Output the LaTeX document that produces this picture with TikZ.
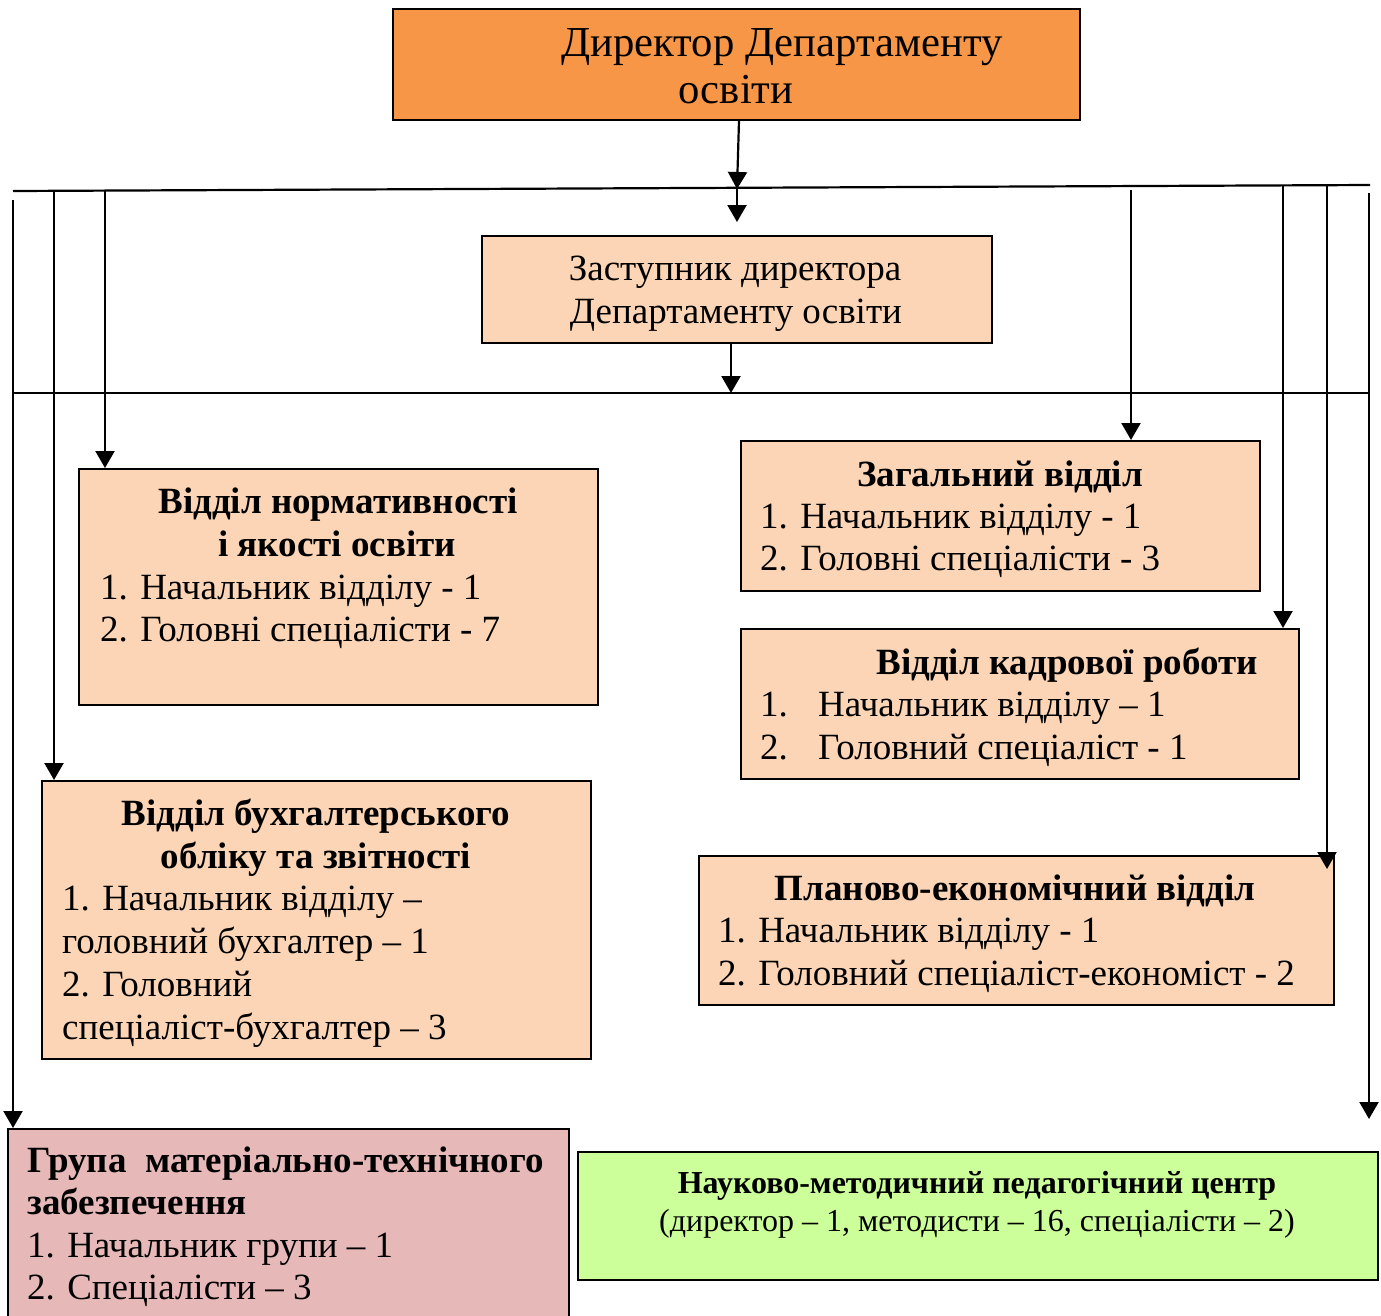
\documentclass[tikz,border=0pt]{standalone}
\usepackage{fontspec}
\setmainfont{Liberation Serif}
\usetikzlibrary{arrows.meta}
\definecolor{dirorange}{HTML}{F79646}
\definecolor{peach}{HTML}{FBD5B5}
\definecolor{pinkbox}{HTML}{E6B9B8}
\definecolor{greenbox}{HTML}{CCFF99}
\tikzset{
  box/.style={draw=black, line width=1.7pt, inner sep=0pt, anchor=north west},
  conn/.style={line width=2.2pt},
  arr/.style={line width=2.2pt, -{Triangle[width=19pt,length=17pt]}},
  body/.style={font=\fontsize{37}{44}\selectfont, inner sep=0pt},
  head/.style={font=\fontsize{37}{44}\selectfont\bfseries, inner sep=0pt},
  big/.style={font=\fontsize{42.7}{50}\selectfont, inner sep=0pt},
  small/.style={font=\fontsize{32}{38}\selectfont, inner sep=0pt},
  smallb/.style={font=\fontsize{32}{38}\selectfont\bfseries, inner sep=0pt}
}
\begin{document}
\begin{tikzpicture}[x=1pt,y=-1pt]
\useasboundingbox (0,0) rectangle (1381,1315);
% boxes
\node[box, fill=dirorange, minimum width=687pt, minimum height=111pt] (dir) at (392,8) {};
\node[box, fill=peach, minimum width=510pt, minimum height=107pt] (dep) at (481,235) {};
\node[box, fill=peach, minimum width=519pt, minimum height=236pt] (norm) at (78,468) {};
\node[box, fill=peach, minimum width=549pt, minimum height=278pt] (buh) at (41,780) {};
\node[box, fill=pinkbox, minimum width=561pt, minimum height=200pt] (grp) at (7,1128) {};
\node[box, fill=peach, minimum width=519pt, minimum height=150pt] (zag) at (740,440) {};
\node[box, fill=peach, minimum width=558pt, minimum height=150pt] (kad) at (740,628) {};
\node[box, fill=peach, minimum width=635pt, minimum height=149pt] (plan) at (698,855) {};
\node[box, fill=greenbox, minimum width=800pt, minimum height=128pt] (nmpc) at (577,1151) {};
% texts
\begin{scope}[yshift=-9pt]
\node[big, anchor=mid] (d1) at (782,45) {Директор Департаменту};
\node[big, anchor=mid] (d2) at (736,92) {освіти};
\node[body, anchor=mid] (p1) at (735,269) {Заступник директора};
\node[body, anchor=mid] (p2) at (736,312) {Департаменту освіти};
\node[head, anchor=mid] (n1) at (338,502) {Відділ нормативності};
\node[head, anchor=mid] (n2) at (337,545) {і якості освіти};
\node[body, anchor=mid west] (n3) at (100,588) {1. Начальник відділу - 1};
\node[body, anchor=mid west] (n4) at (100,630) {2. Головні спеціалісти - 7};
\node[head, anchor=mid] (b1) at (316,814) {Відділ бухгалтерського};
\node[head, anchor=mid] (b2) at (316,857) {обліку та звітності};
\node[body, anchor=mid west] (b3) at (62,899) {1. Начальник відділу –};
\node[body, anchor=mid west] (b4) at (62,942) {головний бухгалтер – 1};
\node[body, anchor=mid west] (b5) at (62,985) {2. Головний};
\node[body, anchor=mid west] (b6) at (62,1028) {спеціаліст-бухгалтер – 3};
\node[head, anchor=mid west] (g1) at (27,1161) {Група\ \ матеріально-технічного};
\node[head, anchor=mid west] (g2) at (27,1203) {забезпечення};
\node[body, anchor=mid west] (g3) at (27,1246) {1. Начальник групи – 1};
\node[body, anchor=mid west] (g4) at (27,1288) {2. Спеціалісти – 3};
\node[head, anchor=mid] (z1) at (1000,475) {Загальний відділ};
\node[body, anchor=mid west] (z2) at (760,517) {1. Начальник відділу - 1};
\node[body, anchor=mid west] (z3) at (760,559) {2. Головні спеціалісти - 3};
\node[head, anchor=mid] (k1) at (1067,663) {Відділ кадрової роботи};
\node[body, anchor=mid west] (k2) at (760,705) {\makebox[58pt][l]{1.}Начальник відділу – 1};
\node[body, anchor=mid west] (k3) at (760,748) {\makebox[58pt][l]{2.}Головний спеціаліст - 1};
\node[head, anchor=mid] (pl1) at (1015,889) {Планово-економічний відділ};
\node[body, anchor=mid west] (pl2) at (718,931) {1. Начальник відділу - 1};
\node[body, anchor=mid west] (pl3) at (718,974) {2. Головний спеціаліст-економіст - 2};
\node[smallb, anchor=mid] (c1) at (977,1182) {Науково-методичний педагогічний центр};
\node[small, anchor=mid] (c2) at (977,1220) {(директор – 1, методисти – 16, спеціалісти – 2)};
\end{scope}
% bus lines
\coordinate (L1a) at (13,191);
\coordinate (L1b) at (1370,185);
\draw[conn] (L1a) -- (L1b);
\coordinate (L2a) at (13,393);
\coordinate (L2b) at (1370,393);
\draw[conn] (L2a) -- (L2b);
% director to deputy
\coordinate (j1) at (737,189);
\coordinate (j2) at (737,222);
\draw[arr] (dir.south -| 739,0) -- (j1);
\draw[arr] (j1) -- (j2);
\coordinate (j3) at (731,393);
\draw[arr] (dep.south -| j3) -- (j3);
% left verticals
\coordinate (v13) at (13,200);
\draw[arr] (v13) -- (v13 |- grp.north);
\coordinate (v54) at (54,191);
\draw[arr] (v54) -- (v54 |- buh.north);
\coordinate (v105) at (105,191);
\draw[arr] (v105) -- (v105 |- norm.north);
% right verticals
\coordinate (v1131) at (1131,190);
\draw[arr] (v1131) -- (v1131 |- zag.north);
\coordinate (v1283) at (1283,186);
\draw[arr] (v1283) -- (v1283 |- kad.north);
\coordinate (v1327) at (1327,186);
\coordinate (e1327) at (1327,869);
\draw[arr] (v1327) -- (e1327);
\coordinate (v1369) at (1369,193);
\coordinate (e1369) at (1369,1119);
\draw[arr] (v1369) -- (e1369);
\end{tikzpicture}
\end{document}
